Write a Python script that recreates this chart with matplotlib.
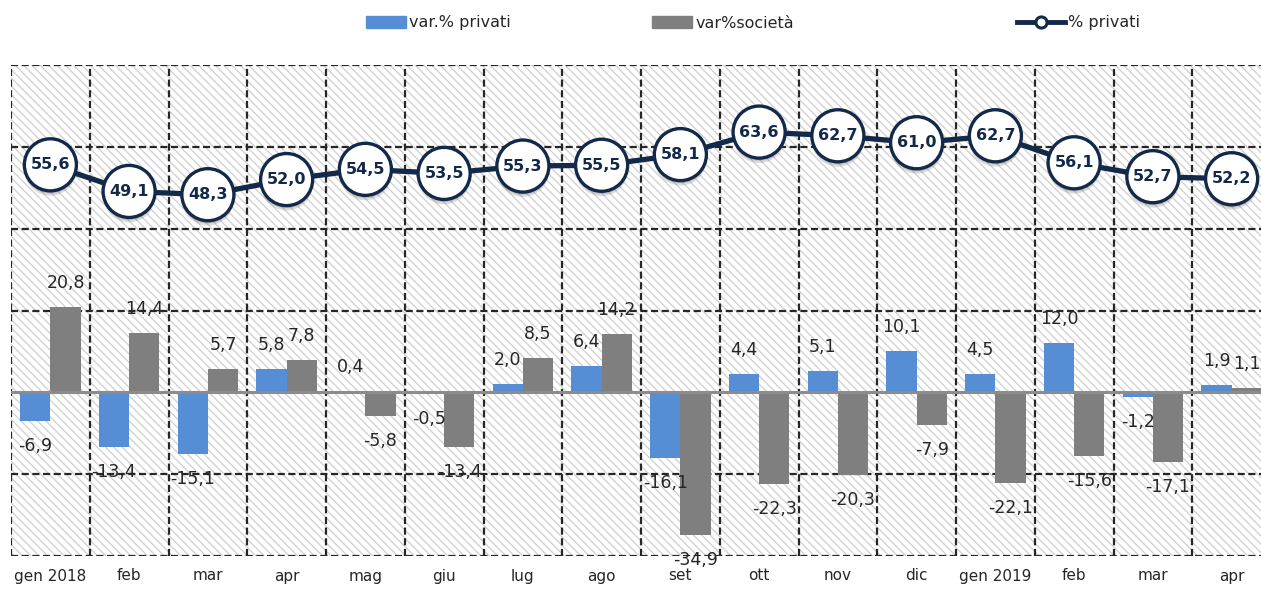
import matplotlib
matplotlib.use("Agg")
import matplotlib.pyplot as plt
import matplotlib.patheffects as pe
from matplotlib.lines import Line2D
from matplotlib.patches import Patch
import numpy as np

categories = ["gen 2018", "feb", "mar", "apr", "mag", "giu", "lug", "ago", "set",
              "ott", "nov", "dic", "gen 2019", "feb", "mar", "apr"]
var_privati = [-6.9, -13.4, -15.1, 5.8, 0.4, -0.5, 2.0, 6.4, -16.1,
               4.4, 5.1, 10.1, 4.5, 12.0, -1.2, 1.9]
var_societa = [20.8, 14.4, 5.7, 7.8, -5.8, -13.4, 8.5, 14.2, -34.9,
               -22.3, -20.3, -7.9, -22.1, -15.6, -17.1, 1.1]
pct_privati = [55.6, 49.1, 48.3, 52.0, 54.5, 53.5, 55.3, 55.5, 58.1,
               63.6, 62.7, 61.0, 62.7, 56.1, 52.7, 52.2]
y_gridlines = [-40, -20, 20, 40, 60, 80]

BLUE = "#558ED5"
GRAY = "#7F7F7F"
NAVY = "#13294A"
TXT = "#262626"

plt.rcParams["font.family"] = ["DejaVu Sans"]
plt.rcParams["hatch.color"] = "#cfcfcf"
plt.rcParams["hatch.linewidth"] = 0.9

W, H = 1261, 590
fig = plt.figure(figsize=(W / 100, H / 100), dpi=100)
ax = fig.add_axes([11 / W, (H - 556) / H, 1260 / W, 491 / H])
ax.set_xlim(-0.5, len(categories) - 0.5)
ax.set_ylim(-40, 80)

# hatched background
ax.patch.set_facecolor("white")
bg = matplotlib.patches.Rectangle((0, 0), 1, 1, transform=ax.transAxes,
                                  facecolor="white", edgecolor="#cfcfcf",
                                  hatch="\\\\\\\\", linewidth=0, zorder=0)
ax.add_patch(bg)

# grid
dash = (0, (3.2, 1.6))
for yv in y_gridlines:
    ax.axhline(yv, color=TXT, lw=1.6, ls=dash, zorder=1)
for xv in np.arange(-0.5, len(categories), 1.0):
    ax.axvline(xv, color=TXT, lw=1.6, ls=dash, zorder=1)

x = np.arange(len(categories))
bw = 0.385
ax.bar(x - bw / 2, var_privati, bw, color=BLUE, zorder=2)
ax.bar(x + bw / 2, var_societa, bw, color=GRAY, zorder=2)
ax.axhline(0, color="#8c8c8c", lw=2.2, zorder=2.5)

def fmt(v):
    return f"{v:.1f}".replace(".", ",")

for xs, vals in ((x - bw / 2, var_privati), (x + bw / 2, var_societa)):
    for xi, v in zip(xs, vals):
        ax.annotate(fmt(v), (xi, v), xytext=(0, 24 if v >= 0 else -25),
                    textcoords="offset pixels", ha="center", va="center",
                    fontsize=12.5, color=TXT, zorder=3)

# line
ax.plot(x, pct_privati, color=NAVY, lw=3.8, zorder=4, solid_capstyle="butt")
shadow = [pe.SimplePatchShadow(offset=(0, -3.5), shadow_rgbFace="#777777", alpha=0.25),
          pe.SimplePatchShadow(offset=(0, -2), shadow_rgbFace="#777777", alpha=0.25),
          pe.Normal()]
ax.plot(x, pct_privati, ls="none", marker="o", ms=37.5, mfc="white", mec=NAVY,
        mew=2.4, zorder=5, path_effects=shadow)
for xi, v in zip(x, pct_privati):
    ax.text(xi, v, fmt(v), ha="center", va="center", fontsize=11.5,
            fontweight="bold", color=NAVY, zorder=6)

ax.set_xticks(x)
ax.set_xticklabels(categories, fontsize=11, color=TXT)
ax.tick_params(axis="x", length=0, pad=9)
ax.set_yticks([])
for s in ax.spines.values():
    s.set_visible(False)

# legends
leg_kw = dict(frameon=False, fontsize=11.5, handlelength=2.5, handleheight=0.7,
              handletextpad=0.2, borderpad=0, borderaxespad=0, labelcolor=TXT,
              loc="center left")
l1 = fig.legend([Patch(color=BLUE)], ["var.% privati"],
                bbox_to_anchor=(366 / W, 1 - 23 / H), **leg_kw)
l2 = fig.legend([Patch(color=GRAY)], ["var%società"],
                bbox_to_anchor=(652 / W, 1 - 23 / H), **leg_kw)
l3 = fig.legend([Line2D([0], [0], color=NAVY, lw=3.5, marker="o", ms=8,
                        mfc="white", mec=NAVY, mew=2.2)], ["% privati"],
                bbox_to_anchor=(1017 / W, 1 - 23 / H), **{**leg_kw, "handlelength": 3.0})

fig.savefig("out.png", dpi=100)
